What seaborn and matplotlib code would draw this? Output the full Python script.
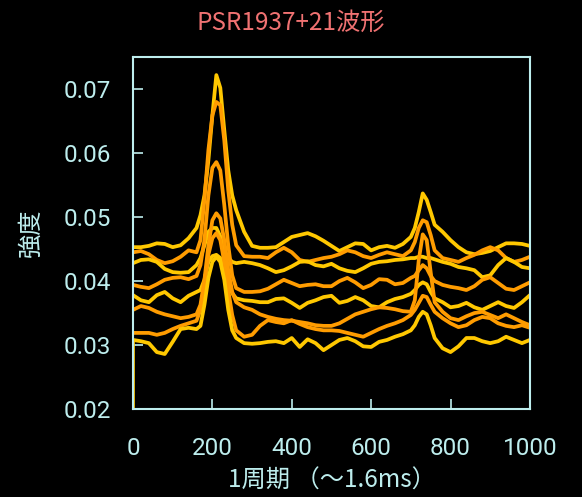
import matplotlib
matplotlib.use("Agg")
import matplotlib.pyplot as plt
import numpy as np
import pandas as pd
import seaborn as sns

x_grid = [0, 20, 40, 60, 80, 100, 120, 140, 160,
          170, 180, 190, 200, 210, 220, 230, 240, 250, 260,
          280, 300, 320, 340, 360, 380, 400, 420, 440, 460, 480, 500, 520, 540,
          560, 580, 600, 620, 640, 660, 680, 700,
          710, 720, 730, 740, 750, 760,
          780, 800, 820, 840, 860, 880, 900, 920, 940, 960, 980, 1000]

curve_a = [0.0453, 0.0453, 0.0455, 0.0459, 0.0458, 0.0453, 0.0456, 0.0467, 0.0483,
           0.0503, 0.0534, 0.0589, 0.0659, 0.0722, 0.0702, 0.0636, 0.0573, 0.0534, 0.0511,
           0.0477, 0.0455, 0.0452, 0.0452, 0.0453, 0.0461, 0.0469, 0.0472, 0.0475, 0.0470, 0.0463, 0.0455, 0.0447, 0.0453,
           0.0459, 0.0458, 0.0448, 0.0453, 0.0455, 0.0452, 0.0458, 0.0469,
           0.0483, 0.0508, 0.0537, 0.0527, 0.0508, 0.0488,
           0.0477, 0.0464, 0.0453, 0.0445, 0.0442, 0.0444, 0.0447, 0.0453, 0.0459, 0.0459, 0.0458, 0.0455]
curve_b = [0.0445, 0.0447, 0.0442, 0.0433, 0.0428, 0.0431, 0.0438, 0.0448, 0.0445,
           0.0464, 0.0527, 0.0605, 0.0659, 0.0680, 0.0675, 0.0620, 0.0542, 0.0488, 0.0456,
           0.0439, 0.0438, 0.0438, 0.0436, 0.0445, 0.0452, 0.0445, 0.0433, 0.0430, 0.0433, 0.0436, 0.0438, 0.0442, 0.0448,
           0.0445, 0.0439, 0.0436, 0.0441, 0.0445, 0.0442, 0.0439, 0.0448,
           0.0461, 0.0483, 0.0495, 0.0492, 0.0472, 0.0448,
           0.0436, 0.0433, 0.0430, 0.0436, 0.0441, 0.0448, 0.0453, 0.0448, 0.0436, 0.0430, 0.0433, 0.0438]
curve_c = [0.0428, 0.0433, 0.0434, 0.0430, 0.0419, 0.0414, 0.0413, 0.0414, 0.0425,
           0.0436, 0.0456, 0.0477, 0.0483, 0.0483, 0.0470, 0.0448, 0.0436, 0.0430, 0.0428,
           0.0430, 0.0428, 0.0425, 0.0420, 0.0414, 0.0417, 0.0423, 0.0430, 0.0431, 0.0425, 0.0423, 0.0427, 0.0420, 0.0416,
           0.0414, 0.0420, 0.0427, 0.0430, 0.0431, 0.0433, 0.0434, 0.0436,
           0.0436, 0.0438, 0.0438, 0.0436, 0.0436, 0.0434,
           0.0430, 0.0427, 0.0422, 0.0420, 0.0417, 0.0406, 0.0409, 0.0425, 0.0436, 0.0430, 0.0422, 0.0420]
curve_d = [0.0394, 0.0391, 0.0389, 0.0395, 0.0402, 0.0405, 0.0406, 0.0403, 0.0408,
           0.0425, 0.0464, 0.0534, 0.0577, 0.0586, 0.0573, 0.0519, 0.0456, 0.0409, 0.0389,
           0.0383, 0.0383, 0.0384, 0.0388, 0.0395, 0.0402, 0.0397, 0.0392, 0.0394, 0.0395, 0.0392, 0.0392, 0.0400, 0.0405,
           0.0398, 0.0389, 0.0394, 0.0403, 0.0402, 0.0395, 0.0397, 0.0405,
           0.0408, 0.0417, 0.0425, 0.0420, 0.0408, 0.0400,
           0.0394, 0.0391, 0.0389, 0.0386, 0.0392, 0.0402, 0.0406, 0.0397, 0.0388, 0.0386, 0.0392, 0.0398]
curve_e = [0.0378, 0.0370, 0.0367, 0.0378, 0.0383, 0.0373, 0.0367, 0.0377, 0.0383,
           0.0386, 0.0402, 0.0430, 0.0439, 0.0441, 0.0436, 0.0420, 0.0398, 0.0381, 0.0373,
           0.0370, 0.0369, 0.0367, 0.0367, 0.0372, 0.0373, 0.0366, 0.0358, 0.0366, 0.0370, 0.0375, 0.0377, 0.0366, 0.0369,
           0.0375, 0.0370, 0.0361, 0.0359, 0.0367, 0.0372, 0.0375, 0.0380,
           0.0386, 0.0394, 0.0398, 0.0395, 0.0383, 0.0373,
           0.0367, 0.0359, 0.0361, 0.0366, 0.0359, 0.0355, 0.0361, 0.0367, 0.0361, 0.0358, 0.0367, 0.0378]
curve_f = [0.0355, 0.0361, 0.0358, 0.0352, 0.0348, 0.0345, 0.0342, 0.0344, 0.0348,
           0.0363, 0.0402, 0.0456, 0.0495, 0.0506, 0.0498, 0.0464, 0.0417, 0.0383, 0.0367,
           0.0359, 0.0355, 0.0348, 0.0344, 0.0341, 0.0339, 0.0338, 0.0336, 0.0334, 0.0331, 0.0330, 0.0330, 0.0334, 0.0341,
           0.0348, 0.0352, 0.0356, 0.0359, 0.0358, 0.0356, 0.0353, 0.0352,
           0.0370, 0.0433, 0.0473, 0.0464, 0.0414, 0.0367,
           0.0352, 0.0342, 0.0339, 0.0345, 0.0350, 0.0352, 0.0347, 0.0342, 0.0348, 0.0342, 0.0336, 0.0331]
curve_g = [0.0319, 0.0319, 0.0319, 0.0316, 0.0319, 0.0325, 0.0330, 0.0334, 0.0338,
           0.0355, 0.0394, 0.0441, 0.0467, 0.0475, 0.0464, 0.0430, 0.0386, 0.0347, 0.0323,
           0.0313, 0.0316, 0.0330, 0.0339, 0.0336, 0.0334, 0.0339, 0.0333, 0.0328, 0.0325, 0.0323, 0.0323, 0.0322, 0.0319,
           0.0316, 0.0313, 0.0319, 0.0325, 0.0330, 0.0334, 0.0339, 0.0347,
           0.0355, 0.0366, 0.0377, 0.0375, 0.0363, 0.0352,
           0.0342, 0.0334, 0.0328, 0.0331, 0.0339, 0.0344, 0.0342, 0.0334, 0.0330, 0.0328, 0.0331, 0.0327]
curve_h_start = 0.0200
curve_h = [0.0308, 0.0306, 0.0303, 0.0289, 0.0286, 0.0305, 0.0325, 0.0327, 0.0325,
           0.0330, 0.0363, 0.0405, 0.0430, 0.0438, 0.0430, 0.0402, 0.0355, 0.0323, 0.0311,
           0.0303, 0.0302, 0.0303, 0.0305, 0.0306, 0.0303, 0.0311, 0.0297, 0.0309, 0.0303, 0.0292, 0.0300, 0.0308, 0.0311,
           0.0306, 0.0298, 0.0297, 0.0305, 0.0308, 0.0313, 0.0317, 0.0323,
           0.0331, 0.0344, 0.0352, 0.0348, 0.0331, 0.0311,
           0.0295, 0.0289, 0.0298, 0.0311, 0.0311, 0.0306, 0.0303, 0.0306, 0.0313, 0.0308, 0.0303, 0.0308]

y_ticks = [0.02, 0.03, 0.04, 0.05, 0.06, 0.07]
x_ticks = [0, 200, 400, 600, 800, 1000]
title_text = "PSR1937+21波形"
xlabel_text = "1周期 （〜1.6ms）"
ylabel_text = "強度"

YELLOW = "#FFC800"
ORANGE = "#FF9C00"
CYAN = "#BDEDED"

curves = [
    ("A", x_grid, curve_a, YELLOW),
    ("B", x_grid, curve_b, ORANGE),
    ("C", x_grid, curve_c, YELLOW),
    ("D", x_grid, curve_d, ORANGE),
    ("E", x_grid, curve_e, YELLOW),
    ("F", x_grid, curve_f, ORANGE),
    ("G", x_grid, curve_g, ORANGE),
    ("H", [0] + x_grid, [curve_h_start] + curve_h, YELLOW),
]

sns.set_style("white")
plt.rcParams["font.family"] = ["Roboto", "Noto Sans CJK JP", "DejaVu Sans"]

fig = plt.figure(figsize=(5.82, 4.97), dpi=100, facecolor="black")
ax = fig.add_axes([0.2285, 0.177, 0.682, 0.708])
ax.set_facecolor("black")

for name, xs, ys, col in curves:
    df = pd.DataFrame({"x": xs, "y": ys})
    sns.lineplot(data=df, x="x", y="y", ax=ax, color=col, linewidth=2.7,
                 estimator=None, sort=False, legend=False,
                 solid_joinstyle="round", solid_capstyle="round")

ax.set_xlim(0, 1000)
ax.set_ylim(0.02, 0.075)
ax.set_xticks(x_ticks)
ax.set_yticks(y_ticks)
ax.set_xticklabels([str(t) for t in x_ticks])
ax.set_yticklabels([f"{t:.2f}" for t in y_ticks])
ax.tick_params(axis="both", direction="in", length=7, width=1.2, color=CYAN,
               labelcolor=CYAN, labelsize=17.5, bottom=True, left=True, top=False, right=False)
ax.tick_params(axis="x", pad=20)
ax.tick_params(axis="y", pad=16)
for sp in ax.spines.values():
    sp.set_color(CYAN)
    sp.set_linewidth(1.5)

ax.set_xlabel(xlabel_text, color=CYAN, fontsize=17.5, family=["Noto Sans CJK JP"], labelpad=6)
ax.set_ylabel(ylabel_text, color=CYAN, fontsize=17.5, family=["Noto Sans CJK JP"], labelpad=14)
fig.text(0.5, 0.955, title_text, color="#F07272", fontsize=17.5, ha="center", va="center",
         family=["Noto Sans CJK JP"])

fig.savefig("out.png", dpi=100, facecolor="black")
